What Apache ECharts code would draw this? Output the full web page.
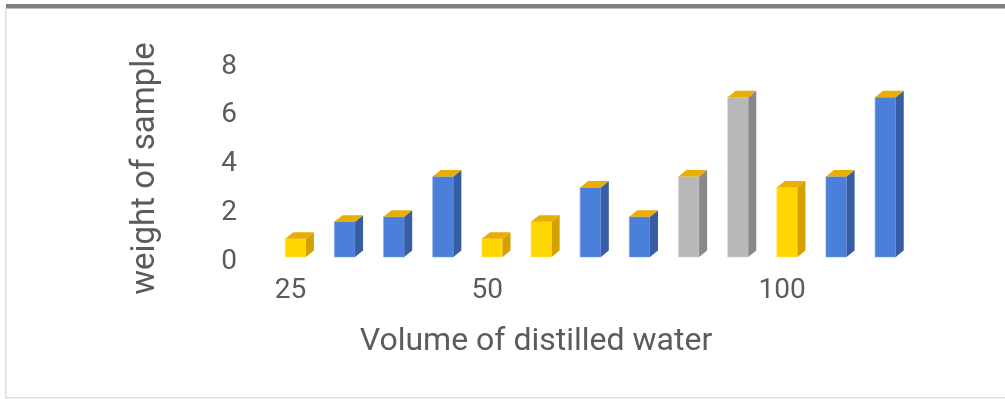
<!DOCTYPE html>
<html>
<head>
<meta charset="utf-8">
<script src="https://cdn.jsdelivr.net/npm/echarts@6/dist/echarts.min.js"></script>
<style>
  html, body { margin: 0; padding: 0; background: #fff; }
  #main { width: 1005px; height: 399px; }
</style>
</head>
<body>
<div id="main"></div>
<script>
// only three of the thirteen category labels are visible in the chart
var categories = ['25', '', '', '', '50', '', '', '', '', '', '100', '', ''];
var weights = [0.75, 1.45, 1.65, 3.3, 0.75, 1.45, 2.85, 1.65, 3.3, 6.55, 2.85, 3.3, 6.55];
var barKinds = ['yellow', 'blue', 'blue', 'blue', 'yellow', 'yellow', 'blue', 'blue', 'gray', 'gray', 'yellow', 'blue', 'blue'];

var palette = {
    blue: { front: '#4a7fda', side: '#375ea4', edge: '#7ea3e6' },
    yellow: { front: '#ffd600', side: '#d4a100', edge: '#ffe46a' },
    gray: { front: '#b8b8b8', side: '#888888', edge: '#d2d2d2' }
};
var capColor = '#e9ae00';
var textColor = '#5b5b5b';

var myChart = echarts.init(document.getElementById('main'));

var renderBar = function(params, api) {
    var idx = api.value(0);
    var top = api.coord([idx, api.value(1)]);
    var base = api.coord([idx, 0]);
    var w = api.size([1, 0])[0] * 0.42;
    var dx = 8, dy = 6.5;
    var x0 = top[0] - w / 2, x1 = top[0] + w / 2;
    var c = palette[barKinds[idx]];
    return {
        type: 'group',
        children: [{
            type: 'rect',
            shape: { x: x0, y: top[1], width: w, height: base[1] - top[1] },
            style: { fill: c.front, stroke: c.edge, lineWidth: 0.6 }
        }, {
            type: 'polygon',
            shape: { points: [[x1, top[1]], [x1 + dx, top[1] - dy], [x1 + dx, base[1] - dy], [x1, base[1]]] },
            style: { fill: c.side }
        }, {
            type: 'polygon',
            shape: { points: [[x0, top[1]], [x0 + dx, top[1] - dy], [x1 + dx, top[1] - dy], [x1, top[1]]] },
            style: { fill: capColor }
        }]
    };
};

var option = {
    animation: false,
    backgroundColor: '#fff',
    textStyle: { fontFamily: 'Roboto' },
    grid: { left: 271, right: 95, top: 62, bottom: 142 },
    xAxis: {
        type: 'category',
        data: categories,
        axisLine: { show: false },
        axisTick: { show: false },
        axisLabel: {
            interval: 0,
            color: textColor,
            fontSize: 28,
            margin: 20,
            padding: [0, 10, 0, 0]
        }
    },
    yAxis: {
        type: 'value',
        min: 0,
        max: 8,
        interval: 2,
        splitLine: { show: false },
        axisLine: { show: false },
        axisTick: { show: false },
        axisLabel: {
            color: textColor,
            fontSize: 28,
            margin: 34,
            verticalAlign: 'top',
            lineHeight: 9
        }
    },
    graphic: [{
        type: 'rect',
        shape: { x: 6, y: 4, width: 999, height: 4.5 },
        style: { fill: '#808080' }
    }, {
        type: 'rect',
        shape: { x: 5, y: 8, width: 1.5, height: 390 },
        style: { fill: '#dedede' }
    }, {
        type: 'rect',
        shape: { x: 5, y: 397, width: 1000, height: 1.5 },
        style: { fill: '#dedede' }
    }, {
        type: 'text',
        x: 145.5,
        y: 168.5,
        rotation: Math.PI / 2,
        style: {
            text: 'weight of sample',
            fill: textColor,
            font: '33px Roboto',
            textAlign: 'center',
            textVerticalAlign: 'middle'
        }
    }, {
        type: 'text',
        x: 536,
        y: 342,
        style: {
            text: 'Volume of distilled water',
            fill: textColor,
            font: '32px Roboto',
            textAlign: 'center',
            textVerticalAlign: 'middle'
        }
    }],
    series: [{
        type: 'custom',
        renderItem: renderBar,
        data: weights.map(function(v, i) { return [i, v]; })
    }]
};

myChart.setOption(option);
</script>
</body>
</html>
